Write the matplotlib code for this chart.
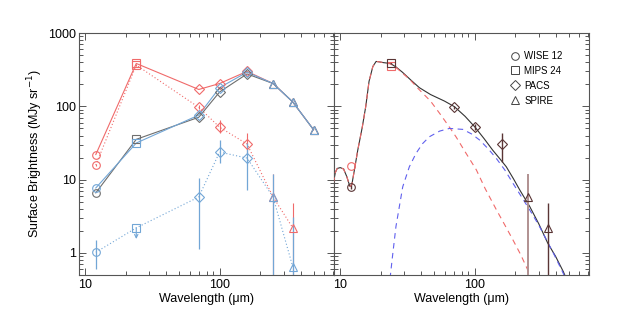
import matplotlib
matplotlib.use("Agg")
import matplotlib.pyplot as plt
from matplotlib.lines import Line2D
from matplotlib.ticker import FixedLocator, LogLocator, NullFormatter, FuncFormatter

plt.rcParams['font.family'] = ['Liberation Sans', 'DejaVu Sans']

# wavelengths of the bands (micron)
wl = [12, 24, 70, 100, 160, 250, 350, 500]
wl_short = [12, 24, 70, 100, 160, 250, 350]

# left panel: solid series (shared SPIRE points)
red_solid = [22, 385, 170, 205, 300, 205, 115, 48]
blue_solid = [7.7, 31.6, 76, 180, 293, 205, 115, 48]
gray_solid = [6.6, 35.5, 71, 157, 277, 205, 115, 48]

# left panel: dotted series
red_dot = [15.8, 366, 97, 52, 30.6, 5.8, 2.2]
red_dot_lo = [0.6, 10, 6, 9, 9, 5.5, 1.9]
red_dot_hi = [0.6, 10, 6, 13, 12.5, 6.2, 2.6]
blue_dot = [1.02, 2.2, 5.8, 23.8, 19.7, 5.8, 0.65]
blue_dot_lo = [0.42, 0, 4.67, 7.0, 12.5, 5.5, 0.35]
blue_dot_hi = [0.48, 0, 4.7, 10.9, 12.0, 6.2, 2.45]
blue_limit = [24, 2.2, 1.55]

# right panel: measurements
meas_wl = [12, 24, 70, 100, 160, 250, 350]
meas = [8.0, 387, 97, 52, 30.6, 5.8, 2.2]
meas_lo = [0.5, 12, 5, 5, 13, 5.5, 1.9]
meas_hi = [0.5, 12, 5, 5, 12.5, 6.2, 2.6]
model_wl = [12, 24]
model_pts = [15.5, 355]

# right panel: model curves
tot_wl = [8.9, 9.2, 9.5, 10.0, 10.6, 11.2, 11.8, 12.2, 12.8, 13.5, 14.6, 15.5, 16.4,
          17.5, 18.5, 19.5, 21, 23.6, 26, 29, 33, 38.8, 47, 59.7, 70.8, 85, 101,
          118, 136, 155, 172, 195, 217, 257, 300, 350, 400, 456, 480]
tot_val = [9.0, 12.5, 14.2, 14.6, 14.0, 11.0, 8.1, 8.5, 14, 25, 52, 100, 220,
           350, 410, 405, 395, 385, 345, 293, 235, 180, 145, 118, 99, 73, 51.7,
           36, 25.4, 19, 15, 10.2, 7.2, 4.3, 2.5, 1.36, 0.9, 0.56, 0.45]
hot_wl = [8.9, 9.2, 9.5, 10.0, 10.6, 11.2, 11.8, 12.2, 12.8, 13.5, 14.6, 15.5, 16.4,
          17.5, 18.5, 19.5, 21, 23.6, 26, 29, 33, 38, 47, 55, 65, 73, 85, 103,
          120, 145, 170, 193, 220, 245, 260]
hot_val = [9.0, 12.5, 14.2, 14.6, 14.0, 11.0, 8.1, 8.5, 14, 25, 52, 100, 220,
           350, 410, 405, 395, 380, 340, 285, 232, 175, 118, 80, 52, 38, 24, 13.6,
           7.5, 3.9, 2.3, 1.5, 0.95, 0.62, 0.48]
cold_wl = [23.5, 24.5, 26, 29.2, 32.7, 36.7, 41, 46.1, 55, 65, 81.8, 95, 109,
           127, 145, 168, 193, 225, 257, 300, 343, 390, 443, 470]
cold_val = [0.45, 0.9, 2.3, 8.0, 15, 22.9, 31, 38.5, 46, 50, 48.5, 42, 34.7,
            26, 19.5, 13.5, 8.9, 5.7, 3.86, 2.4, 1.5, 0.95, 0.59, 0.47]

legend_labels = ['WISE 12', 'MIPS 24', 'PACS', 'SPIRE']
band_markers = ['o', 's', 'D', '^']
markers = ['o', 's', 'D', 'D', 'D', '^', '^', '^']
msize = {'o': 5.5, 's': 5.5, 'D': 4.6, '^': 6}

red = '#f06a6a'
blue = '#72a6d6'
gray = '#6e6e6e'
dark = '#5a3535'
spine_col = '#555555'


def style_axes(ax, show_y):
    ax.set_xscale('log')
    ax.set_yscale('log')
    ax.set_xlim(9.0, 710)
    ax.set_ylim(0.5, 1000)
    for s in ax.spines.values():
        s.set_color(spine_col)
        s.set_linewidth(0.8)
    ax.tick_params(which='both', direction='in', top=True, right=True,
                   color=spine_col, width=0.7, labelsize=9, pad=3)
    ax.tick_params(which='major', length=5)
    ax.tick_params(which='minor', length=3)
    ax.tick_params(axis='y', pad=2)
    ax.xaxis.set_major_locator(FixedLocator([10, 100]))
    ax.xaxis.set_minor_locator(LogLocator(base=10, subs=range(2, 10)))
    ax.xaxis.set_minor_formatter(NullFormatter())
    ax.xaxis.set_major_formatter(FuncFormatter(lambda v, p: '%d' % v))
    ax.yaxis.set_major_locator(FixedLocator([1, 10, 100, 1000]))
    ax.yaxis.set_minor_locator(LogLocator(base=10, subs=range(2, 10)))
    ax.yaxis.set_minor_formatter(NullFormatter())
    ax.yaxis.set_major_formatter(FuncFormatter(lambda v, p: '%d' % v))
    if not show_y:
        ax.tick_params(axis='y', labelleft=False)
    ax.set_xlabel('Wavelength (\u03bcm)', fontsize=9, labelpad=1)


def plot_series(ax, x, y, color, ls):
    ax.plot(x, y, color=color, lw=0.8, ls=ls, zorder=2)
    for xi, yi, m in zip(x, y, markers):
        ax.plot(xi, yi, marker=m, ms=msize[m], mfc='none', mec=color,
                mew=0.8, ls='none', zorder=3)


fig = plt.figure(figsize=(6.3, 3.15), dpi=100)
ax1 = fig.add_axes([0.1254, 0.127, 0.4048, 0.768])
ax2 = fig.add_axes([0.5302, 0.127, 0.4048, 0.768])

# ---- left panel
plot_series(ax1, wl, red_solid, red, '-')
ax1.errorbar(wl_short, red_dot, yerr=[red_dot_lo, red_dot_hi], fmt='none',
             ecolor=red, elinewidth=0.8, zorder=2)
plot_series(ax1, wl_short, red_dot, red, (0, (1, 2)))
ax1.errorbar(wl_short[2:], blue_dot[2:], yerr=[blue_dot_lo[2:], blue_dot_hi[2:]],
             fmt='none', ecolor=blue, elinewidth=0.9, zorder=2)
ax1.errorbar(wl_short[:1], blue_dot[:1], yerr=[blue_dot_lo[:1], blue_dot_hi[:1]],
             fmt='none', ecolor=blue, elinewidth=0.9, zorder=2)
plot_series(ax1, wl_short, blue_dot, blue, (0, (1, 2)))
ax1.annotate('', xy=(blue_limit[0], blue_limit[2]), xytext=(blue_limit[0], blue_limit[1]),
             arrowprops=dict(arrowstyle='->', color=blue, lw=0.8,
                             shrinkA=0, shrinkB=0, mutation_scale=6))
plot_series(ax1, wl, gray_solid, gray, '-')
plot_series(ax1, wl, blue_solid, blue, '-')
style_axes(ax1, True)
ax1.set_ylabel('Surface Brightness (MJy sr$^{-1}$)', fontsize=9, labelpad=2)

# ---- right panel
ax2.plot(tot_wl, tot_val, color='#333333', lw=0.8, zorder=2)
ax2.plot(hot_wl, hot_val, color=red, lw=0.8, ls=(0, (5, 4)), zorder=3)
ax2.plot(cold_wl, cold_val, color='#6060ee', lw=0.8, ls=(0, (5, 4)), zorder=3)
ecols = [dark, dark, dark, dark, dark, '#b09090', dark]
for xi, yi, lo, hi, ec, m in zip(meas_wl, meas, meas_lo, meas_hi, ecols, markers):
    ax2.errorbar([xi], [yi], yerr=[[lo], [hi]], fmt='none', ecolor=ec,
                 elinewidth=1.0 if ec == dark else 1.4, zorder=4)
    ax2.plot(xi, yi, marker=m, ms=msize[m], mfc='none', mec=dark, mew=0.8, zorder=5)
for xi, yi, m in zip(model_wl, model_pts, band_markers):
    ax2.plot(xi, yi, marker=m, ms=msize[m], mfc='none', mec=red, mew=0.8, zorder=4)
style_axes(ax2, False)

handles = [Line2D([], [], marker=m, ls='none', ms=msize[m], mfc='none',
                  mec='#444444', mew=0.7)
           for m in band_markers]
ax2.legend(handles, legend_labels, loc='upper right', bbox_to_anchor=(0.92, 0.95),
           frameon=False, fontsize=7, handletextpad=0.5, labelspacing=0.5,
           handlelength=1.0, borderaxespad=0.2)

fig.savefig('out.png', dpi=100)
